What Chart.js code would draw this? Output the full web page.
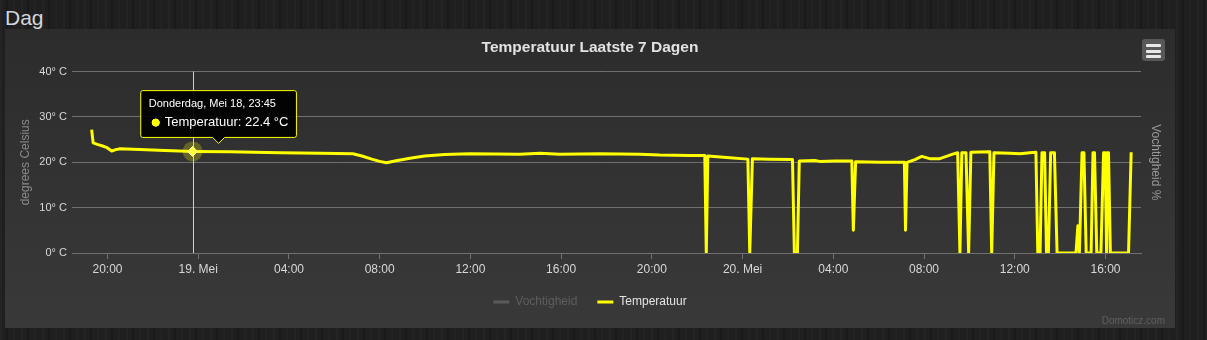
<!DOCTYPE html>
<html><head><meta charset="utf-8">
<script src="https://cdn.jsdelivr.net/npm/chart.js@4.4.0/dist/chart.umd.min.js"></script>
<style>
html,body{margin:0;padding:0;width:1207px;height:340px;overflow:hidden;}
body{background-color:#1f1f1f;background-image:repeating-linear-gradient(90deg,rgba(255,255,255,0.025) 0 2px,rgba(0,0,0,0) 2px 6px,rgba(0,0,0,0.18) 6px 8px,rgba(0,0,0,0) 8px 13px,rgba(255,255,255,0.015) 13px 15px,rgba(0,0,0,0) 15px 21px);font-family:'Liberation Sans',Arial,sans-serif;position:relative;}
#heading{position:absolute;left:5px;top:5px;font-size:21px;color:#d2d8dd;line-height:26px;}
#box{position:absolute;left:5px;top:29px;width:1170px;height:299px;background:linear-gradient(#2c2c2c,#393939);}
#box canvas{position:absolute;left:0;top:0;}
#menu{position:absolute;left:1137px;top:10px;width:23px;height:22px;background:#585858;border-radius:3px;}
#menu span{position:absolute;left:4px;width:15px;height:3px;background:#e8e8e8;border-radius:1px;}
</style></head>
<body>
<div id="heading">Dag</div>
<div id="box">
  <canvas id="c" width="1170" height="299"></canvas>
  <div id="menu"><span style="top:5px"></span><span style="top:10.5px"></span><span style="top:16px"></span></div>
</div>
<script>
// ---- data ----
const chartTitle = 'Temperatuur Laatste 7 Dagen';
const seriesNames = ['Vochtigheid', 'Temperatuur'];
const times = [
  "18 19:18","18 19:22","18 19:35","18 19:47","18 19:57","18 20:11","18 20:22","18 20:33","18 21:25","18 22:32",
  "18 23:45","19 01:23","19 03:36","19 05:22","19 06:49","19 07:13","19 07:39","19 08:00","19 08:18","19 08:40",
  "19 09:20","19 09:59","19 10:52","19 11:58","19 14:11","19 15:04","19 15:56","19 17:42","19 19:28","19 20:21",
  "19 21:40","19 22:20","19 22:24","19 22:28","19 23:26","20 00:14","20 00:19","20 00:26","20 01:12","20 02:12",
  "20 02:17","20 02:25","20 02:30","20 03:11","20 03:24","20 04:04","20 04:49","20 04:53","20 04:59","20 06:03",
  "20 07:08","20 07:11","20 07:15","20 07:36","20 07:54","20 08:15","20 08:42","20 09:16","20 09:29","20 09:35",
  "20 09:40","20 09:51","20 09:58","20 10:04","20 10:54","20 10:59","20 11:05","20 11:47","20 12:14","20 12:40",
  "20 12:56","20 13:01","20 13:07","20 13:12","20 13:19","20 13:24","20 13:29","20 13:35","20 13:45","20 13:52",
  "20 14:42","20 14:47","20 14:51","20 14:58","20 15:03","20 15:09","20 15:22","20 15:27","20 15:31","20 15:37",
  "20 15:48","20 15:55","20 15:59","20 16:03","20 16:05","20 16:08","20 16:13","20 17:01","20 17:08"
];
const temps = [
  27.2,24.3,23.9,23.6,23.3,22.5,22.8,23.0,22.8,22.6,
  22.4,22.3,22.1,22.0,21.9,21.4,20.7,20.2,19.9,20.3,
  20.9,21.4,21.7,21.9,21.8,22.0,21.8,21.9,21.8,21.6,
  21.5,21.5,0,21.4,21.0,20.7,0,20.8,20.7,20.6,
  0,0,20.3,20.4,20.2,20.3,20.3,5.0,20.1,20.0,
  20.0,5.0,20.0,20.6,21.3,20.8,20.8,21.8,22.1,0,
  22.1,22.1,0,22.2,22.3,0,22.1,22.0,21.9,22.1,
  22.2,0,0,22.1,22.1,0,0,22.1,22.1,0,
  0,6.0,0,22.1,22.1,0,0,22.1,22.1,0,
  0,22.1,22.1,0,22.1,22.1,0,0,22.2
];
const humidity = [];
const xRange = ["18 18:26", "20 17:34"];
const xTickTimes = ["18 20:00","19 00:00","19 04:00","19 08:00","19 12:00","19 16:00","19 20:00","20 00:00","20 04:00","20 08:00","20 12:00","20 16:00"];
const xTickLabels = ["20:00","19. Mei","04:00","08:00","12:00","16:00","20:00","20. Mei","04:00","08:00","12:00","16:00"];
const yTickValues = [0,10,20,30,40];
const yTickLabels = ["0° C","10° C","20° C","30° C","40° C"];
const dayNames = {18:'Donderdag',19:'Vrijdag',20:'Zaterdag'};
const tooltipTime = "18 23:45";

// ---- helpers ----
function toHours(s){ const p=s.split(' '); const hm=p[1].split(':').map(Number); return (Number(p[0])-18)*24+hm[0]+hm[1]/60; }
function fmtTime(h){ const d=18+Math.floor(h/24+1e-9); const r=h-(d-18)*24; let hh=Math.floor(r+1e-9); let mm=Math.round((r-hh)*60); if(mm===60){mm=0;hh++;} return dayNames[d]+', Mei '+d+', '+String(hh).padStart(2,'0')+':'+String(mm).padStart(2,'0'); }

const FONT = "'Liberation Sans', Arial, sans-serif";
Chart.defaults.font.family = FONT;
Chart.defaults.color = '#d0d0d0';

Chart.Tooltip.positioners.shifted = function(elements){
  if(!elements.length) return false;
  const el = elements[0].element;
  return {x: el.x + 26, y: el.y - 8, xAlign: 'center', yAlign: 'bottom'};
};

const overlay = {
  id: 'overlay',
  beforeDatasetsDraw(chart){
    const act = chart.getActiveElements();
    if(!act.length) return;
    const el = act[0].element; const ctx = chart.ctx; const a = chart.chartArea;
    ctx.save();
    ctx.fillStyle = 'rgba(255,255,0,0.25)';
    ctx.beginPath(); ctx.arc(el.x, el.y, 10, 0, Math.PI*2); ctx.fill();
    ctx.strokeStyle = '#cfcfcf'; ctx.lineWidth = 1;
    const x = Math.round(el.x)+0.5;
    ctx.beginPath(); ctx.moveTo(x, a.top); ctx.lineTo(x, a.bottom); ctx.stroke();
    ctx.restore();
  },
  afterDraw(chart){
    const ctx = chart.ctx;
    ctx.save();
    ctx.font = '10px ' + FONT; ctx.fillStyle = '#606060';
    ctx.textAlign = 'right'; ctx.textBaseline = 'middle';
    ctx.fillText('Domoticz.com', chart.width - 10, chart.height - 7);
    ctx.restore();
  }
};

const legendLine = ['#5a5a5a', '#ffff00'];
const legendText = ['#5e5e5e', '#e4e4e4'];

const chart = new Chart(document.getElementById('c'), {
  type: 'line',
  data: {
    datasets: [
      { label: seriesNames[0], data: humidity, yAxisID: 'y2', borderColor: '#5a5a5a', pointRadius: 0 },
      { label: seriesNames[1], yAxisID: 'y',
        data: times.map((t,i)=>({x: toHours(t), y: temps[i]})),
        borderColor: '#ffff00', backgroundColor: '#ffff00', borderWidth: 3, tension: 0,
        borderJoinStyle: 'round', pointRadius: 0, pointHoverRadius: 5, pointStyle: 'rectRot',
        pointHoverBackgroundColor: '#ffff3a', pointHoverBorderColor: '#ffffb0', pointHoverBorderWidth: 1 }
    ]
  },
  options: {
    responsive: false, animation: false, events: [],
    layout: { padding: { left: 0, right: 0, top: 0, bottom: 10 } },
    scales: {
      x: {
        type: 'linear', min: toHours(xRange[0]), max: toHours(xRange[1]),
        afterBuildTicks: s => { s.ticks = xTickTimes.map(t => ({value: toHours(t)})); },
        afterFit: s => { s.height = 23; },
        ticks: { autoSkip: false, maxRotation: 0, padding: 3, color: '#d8d8d8', font: {size: 12},
                 callback: (v, i) => xTickLabels[i] },
        grid: { drawOnChartArea: false, drawTicks: true, tickLength: 6, color: '#707070' },
        border: { display: true, color: '#707070', width: 1 }
      },
      y: {
        position: 'left', min: 0, max: 40,
        afterBuildTicks: s => { s.ticks = yTickValues.map(v => ({value: v})); },
        afterFit: s => { s.width = 67; },
        ticks: { padding: 5, color: '#d8d8d8', font: {size: 11}, callback: (v, i) => yTickLabels[i] },
        grid: { color: '#707070', drawTicks: false },
        border: { display: false },
        title: { display: true, text: 'degrees Celsius', color: '#8a8a8a', font: {size: 12}, padding: {top: 13, bottom: 0} }
      },
      y2: {
        position: 'right', min: 0, max: 100,
        afterFit: s => { s.width = 34; },
        ticks: { display: false },
        grid: { display: false, drawTicks: false },
        border: { display: false },
        title: { display: true, text: 'Vochtigheid %', color: '#9a9a9a', font: {size: 12}, padding: {top: 12, bottom: 0} }
      }
    },
    plugins: {
      title: { display: true, text: chartTitle, color: '#e2e2e2', font: {size: 15.5, weight: 'bold'}, padding: {top: 9, bottom: 15} },
      legend: {
        position: 'bottom',
        labels: {
          usePointStyle: true, pointStyleWidth: 16, boxHeight: 12, padding: 20, font: {size: 12},
          generateLabels: ch => ch.data.datasets.map((ds, i) => ({
            text: ds.label, fillStyle: legendLine[i], strokeStyle: legendLine[i], fontColor: legendText[i],
            lineWidth: 3, pointStyle: 'line', hidden: false, datasetIndex: i
          }))
        }
      },
      tooltip: {
        position: 'shifted', caretSize: 6, caretPadding: 0, cornerRadius: 2,
        backgroundColor: 'rgba(0,0,0,0.92)', borderColor: '#ffff00', borderWidth: 1,
        padding: {top: 7, bottom: 7, left: 8, right: 8},
        titleFont: {size: 11, weight: 'normal'}, titleColor: '#ffffff', titleMarginBottom: 4,
        bodyFont: {size: 13}, bodyColor: '#ffffff',
        usePointStyle: true, boxWidth: 14, boxHeight: 7,
        callbacks: {
          title: items => fmtTime(items[0].parsed.x),
          label: c => seriesNames[1] + ': ' + c.parsed.y.toFixed(1) + ' °C',
          labelColor: () => ({borderColor: '#ffff00', backgroundColor: '#ffff00'}),
          labelPointStyle: () => ({pointStyle: 'circle', rotation: 0})
        }
      }
    }
  },
  plugins: [overlay]
});

const idx = times.indexOf(tooltipTime);
chart.tooltip.setActiveElements([{datasetIndex: 1, index: idx}], {x: 0, y: 0});
chart.setActiveElements([{datasetIndex: 1, index: idx}]);
chart.update();
</script>
</body></html>
